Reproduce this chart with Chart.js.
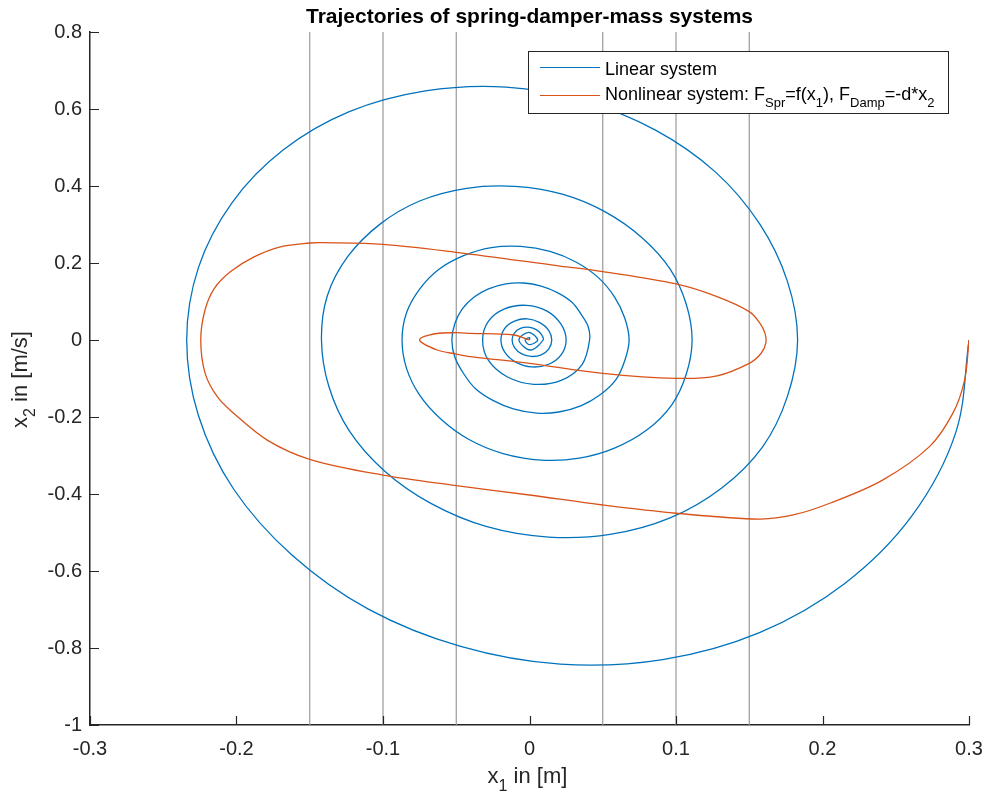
<!DOCTYPE html>
<html>
<head>
<meta charset="utf-8">
<script src="https://cdn.jsdelivr.net/npm/chart.js@4.4.1/dist/chart.umd.min.js"></script>
<style>
    body { margin: 0; background: #fff; }
    #wrap { width: 989px; height: 796px; }
</style>
</head>
<body>
<div id="wrap"><canvas id="myChart"></canvas></div>
<script>
// values (x1 position, x2 velocity)
var linearX = [0.300, 0.291, 0.261, 0.215, 0.157, 0.091, 0.021, -0.047, -0.110, -0.162, -0.202, -0.226,
    -0.234, -0.226, -0.203, -0.168, -0.123, -0.071, -0.016, 0.037, 0.086, 0.127, 0.157, 0.176,
    0.183, 0.176, 0.159, 0.131, 0.096, 0.055, 0.013, -0.029, -0.067, -0.099, -0.123, -0.137,
    -0.142, -0.138, -0.124, -0.102, -0.075, -0.043, -0.010, 0.023, 0.052, 0.077, 0.096, 0.107,
    0.111, 0.107, 0.097, 0.080, 0.058, 0.034, 0.008, -0.018, -0.041, -0.060, -0.075, -0.084,
    -0.087, -0.084, -0.075, -0.062, -0.045, -0.026, -0.006, 0.014, 0.032, 0.047, 0.058, 0.065,
    0.068, 0.065, 0.059, 0.048, 0.035, 0.020, 0.005, -0.011, -0.025, -0.037, -0.045, -0.051,
    -0.053, -0.051, -0.046, -0.038, -0.028, -0.016, -0.004, 0.008, 0.019, 0.029, 0.035, 0.040,
    0.041, 0.036, 0.022, 0.003, -0.015, -0.028, -0.032, -0.028, -0.017, -0.002, 0.012, 0.0215,
    0.025, 0.0217, 0.0131, 0.0018, -0.0091, -0.0168, -0.0195, -0.0169, -0.0102, -0.0014, 0.0071, 0.0131,
    0.0152, 0.0132, 0.0080, 0.0011, -0.0056, -0.0102, -0.0119, -0.0103, -0.0062, -0.0008, 0.0043, 0.0080,
    0.0093, 0.0006, -0.0072, -0.0005, 0.0056, 0.000, -0.003, 0.000, 0.000];
var linearY = [0.000, -0.240, -0.457, -0.633, -0.760, -0.830, -0.842, -0.796, -0.699, -0.559, -0.387, -0.196,
    0.000, 0.188, 0.357, 0.494, 0.593, 0.647, 0.657, 0.621, 0.545, 0.436, 0.302, 0.153,
    0.000, -0.147, -0.278, -0.385, -0.462, -0.505, -0.512, -0.485, -0.425, -0.340, -0.236, -0.120,
    0.000, 0.115, 0.217, 0.301, 0.361, 0.394, 0.399, 0.378, 0.332, 0.265, 0.184, 0.093,
    0.000, -0.089, -0.169, -0.234, -0.281, -0.307, -0.312, -0.295, -0.259, -0.207, -0.143, -0.073,
    0.000, 0.070, 0.132, 0.183, 0.219, 0.240, 0.243, 0.230, 0.202, 0.162, 0.112, 0.057,
    0.000, -0.054, -0.103, -0.143, -0.171, -0.187, -0.190, -0.179, -0.157, -0.126, -0.087, -0.044,
    0.000, 0.042, 0.080, 0.111, 0.133, 0.146, 0.148, 0.140, 0.123, 0.098, 0.068, 0.035,
    0.000, -0.063, -0.104, -0.115, -0.096, -0.053, 0.000, 0.049, 0.081, 0.090, 0.075, 0.041,
    0.000, -0.038, -0.063, -0.070, -0.058, -0.032, 0.000, 0.030, 0.049, 0.055, 0.045, 0.025,
    0.000, -0.023, -0.0385, -0.0427, -0.0354, -0.0196, 0.000, 0.0181, 0.0300, 0.0333, 0.0276, 0.0153,
    0.000, -0.026, 0.000, 0.020, 0.000, -0.012, 0.000, 0.006, 0.000];

var nonlinearX = [0.300, 0.297, 0.289, 0.273, 0.241, 0.205, 0.180, 0.157, 0.100, 0.050, 0.000, -0.050, -0.100, -0.150, -0.179, -0.202, -0.2130, -0.2214, -0.2244,
    -0.2215, -0.2150, -0.204, -0.188, -0.170, -0.150, -0.1406, -0.100, -0.050, 0.021, 0.050, 0.100, 0.128, 0.150, 0.157, 0.1607, 0.1613,
    0.158, 0.150, 0.128, 0.100, 0.050, 0.000, -0.0403, -0.050, -0.063, -0.075,
    -0.0654, -0.0497, -0.0403, -0.0107, 0.000];
var nonlinearY = [0.000, -0.104, -0.190, -0.277, -0.364, -0.424, -0.4545, -0.465, -0.450, -0.4286, -0.4026, -0.378, -0.351, -0.310, -0.260, -0.190, -0.148, -0.0866, 0.000,
    0.078, 0.135, 0.178, 0.216, 0.242, 0.252, 0.2528, 0.2485, 0.2278, 0.192, 0.1775, 0.1455, 0.1126, 0.0736, 0.045, 0.018, -0.008,
    -0.035, -0.0606, -0.093, -0.0996, -0.0866, -0.0606, -0.043, -0.0364, -0.026, 0.000,
    0.0156, 0.019, 0.0173, 0.013, 0.000];

var markerX = [-0.15, -0.1, -0.05, 0.05, 0.1, 0.15];
var xTicks = [-0.3, -0.2, -0.1, 0, 0.1, 0.2, 0.3];
var xTickLabels = ['-0.3', '-0.2', '-0.1', '0', '0.1', '0.2', '0.3'];
var yTicks = [-1, -0.8, -0.6, -0.4, -0.2, 0, 0.2, 0.4, 0.6, 0.8];
var yTickLabels = ['-1', '-0.8', '-0.6', '-0.4', '-0.2', '0', '0.2', '0.4', '0.6', '0.8'];

var FONT = "'Liberation Sans', Arial, sans-serif";
var AXIS_COLOR = '#262626';

function toPoints(xs, ys) {
    var pts = [];
    for (var i = 0; i < xs.length; i++) {
        pts.push({ x: xs[i], y: ys[i] });
    }
    return pts;
}

// text with subscripts, parts = [[text, isSub], ...]
function drawRich(ctx, parts, x, y, align, size) {
    var sub = Math.round(size * 0.72);
    var drop = Math.round(size * 0.38);
    var total = 0;
    parts.forEach(function (p) {
        ctx.font = (p[1] ? sub : size) + 'px ' + FONT;
        total += ctx.measureText(p[0]).width;
    });
    var cx = x;
    if (align === 'center') cx = x - total / 2;
    parts.forEach(function (p) {
        ctx.font = (p[1] ? sub : size) + 'px ' + FONT;
        ctx.fillText(p[0], cx, p[1] ? y + drop : y);
        cx += ctx.measureText(p[0]).width;
    });
}

var decorations = {
    id: 'decorations',
    afterDraw: function (chart) {
        var ctx = chart.ctx;
        var area = chart.chartArea;
        var xs = chart.scales.x, ys = chart.scales.y;
        ctx.save();

        // inward tick marks
        ctx.strokeStyle = AXIS_COLOR;
        ctx.lineWidth = 1.2;
        ctx.beginPath();
        xTicks.forEach(function (v) {
            var px = Math.round(xs.getPixelForValue(v)) + 0.5;
            ctx.moveTo(px, area.bottom);
            ctx.lineTo(px, area.bottom - 9);
        });
        yTicks.forEach(function (v) {
            var py = Math.round(ys.getPixelForValue(v)) + 0.5;
            ctx.moveTo(area.left, py);
            ctx.lineTo(area.left + 9, py);
        });
        ctx.stroke();

        // title
        ctx.fillStyle = '#000';
        ctx.font = 'bold 21px ' + FONT;
        ctx.textAlign = 'center';
        ctx.textBaseline = 'alphabetic';
        ctx.fillText('Trajectories of spring-damper-mass systems', (area.left + area.right) / 2, 23);

        // axis titles
        ctx.textAlign = 'left';
        ctx.fillStyle = AXIS_COLOR;
        drawRich(ctx, [['x', false], ['1', true], [' in [m]', false]], (area.left + area.right) / 2 - 2, 783, 'center', 22);
        ctx.save();
        ctx.translate(27, (area.top + area.bottom) / 2 + 1);
        ctx.rotate(-Math.PI / 2);
        drawRich(ctx, [['x', false], ['2', true], [' in [m/s]', false]], 0, 0, 'center', 22);
        ctx.restore();

        // legend box
        var bx = 528.5, by = 51.5, bw = 420, bh = 62;
        ctx.fillStyle = '#fff';
        ctx.fillRect(bx, by, bw, bh);
        ctx.strokeStyle = AXIS_COLOR;
        ctx.lineWidth = 1;
        ctx.strokeRect(bx, by, bw, bh);

        ctx.lineWidth = 1.2;
        ctx.strokeStyle = '#0072BD';
        ctx.beginPath(); ctx.moveTo(540, 67.5); ctx.lineTo(600, 67.5); ctx.stroke();
        ctx.strokeStyle = '#D95319';
        ctx.beginPath(); ctx.moveTo(540, 95.5); ctx.lineTo(600, 95.5); ctx.stroke();

        ctx.fillStyle = '#000';
        drawRich(ctx, [['Linear system', false]], 605, 75, 'left', 18);
        drawRich(ctx, [['Nonlinear system: F', false], ['Spr', true], ['=f(x', false], ['1', true],
            ['), F', false], ['Damp', true], ['=-d*x', false], ['2', true]], 605, 99.5, 'left', 18);

        ctx.restore();
    }
};

var datasets = [];
datasets.push({
    label: 'Nonlinear system',
    data: toPoints(nonlinearX, nonlinearY),
    borderColor: '#D95319',
    borderWidth: 1.3,
    pointRadius: 0,
    tension: 0.35,
    fill: false,
    order: 1
});
datasets.push({
    label: 'Linear system',
    data: toPoints(linearX, linearY),
    borderColor: '#0072BD',
    borderWidth: 1.3,
    pointRadius: 0,
    tension: 0.35,
    fill: false,
    order: 2
});
markerX.forEach(function (v) {
    datasets.push({
        label: 'x = ' + v,
        data: [{ x: v, y: -1 }, { x: v, y: 0.8 }],
        borderColor: '#999999',
        borderWidth: 1.2,
        pointRadius: 0,
        tension: 0,
        fill: false,
        order: 3
    });
});

var ctx = document.getElementById('myChart');
var chart = new Chart(ctx, {
    type: 'line',
    data: { datasets: datasets },
    options: {
        responsive: true,
        maintainAspectRatio: false,
        animation: false,
        layout: { padding: { top: 32, right: 20, left: 0, bottom: 0 } },
        plugins: {
            legend: { display: false },
            tooltip: { enabled: false },
            title: { display: false }
        },
        scales: {
            x: {
                type: 'linear',
                min: -0.3,
                max: 0.3,
                afterBuildTicks: function (scale) {
                    scale.ticks = xTicks.map(function (v) { return { value: v }; });
                },
                afterFit: function (scale) {
                    scale.height = 71;
                    scale.paddingLeft = 0;
                    scale.paddingRight = 0;
                },
                ticks: {
                    padding: 12,
                    color: AXIS_COLOR,
                    font: { family: FONT, size: 20 },
                    maxRotation: 0,
                    callback: function (value, index) { return xTickLabels[index]; }
                },
                grid: { display: false, drawTicks: false },
                border: { display: true, color: AXIS_COLOR, width: 1.5 }
            },
            y: {
                type: 'linear',
                min: -1,
                max: 0.8,
                afterBuildTicks: function (scale) {
                    scale.ticks = yTicks.map(function (v) { return { value: v }; });
                },
                afterFit: function (scale) {
                    scale.width = 90;
                    scale.paddingTop = 0;
                    scale.paddingBottom = 0;
                },
                ticks: {
                    padding: 8,
                    color: AXIS_COLOR,
                    font: { family: FONT, size: 20 },
                    callback: function (value, index) { return yTickLabels[index]; }
                },
                grid: { display: false, drawTicks: false },
                border: { display: true, color: AXIS_COLOR, width: 1.5 }
            }
        }
    },
    plugins: [decorations]
});
</script>
</body>
</html>
